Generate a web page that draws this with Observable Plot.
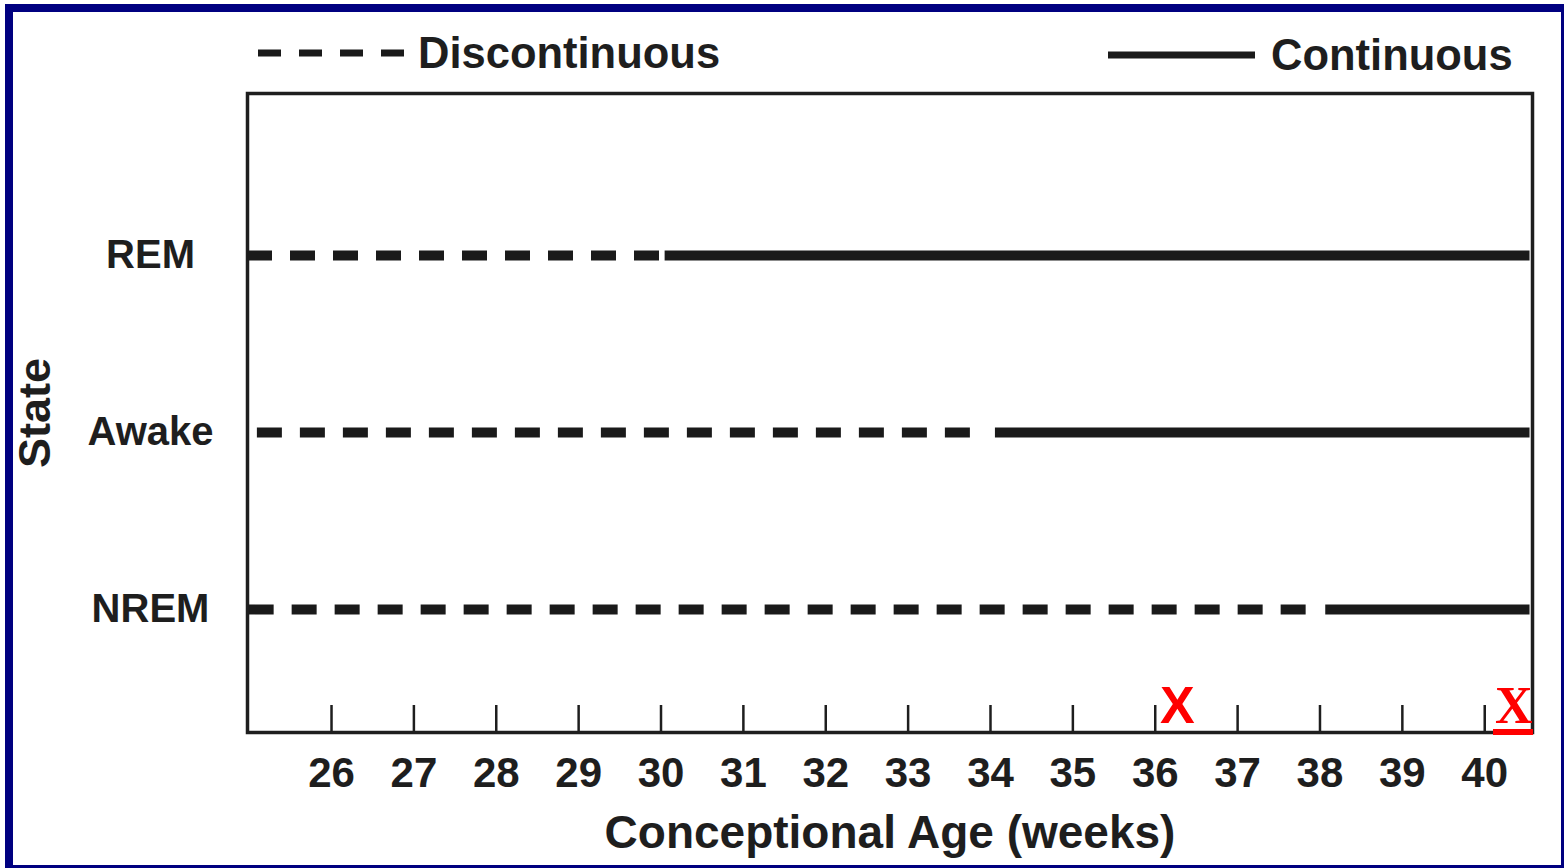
<!DOCTYPE html>
<html>
<head>
<meta charset="utf-8">
<script src="https://cdn.jsdelivr.net/npm/d3@7"></script>
<script src="https://cdn.jsdelivr.net/npm/@observablehq/plot@0.6"></script>
<style>
html, body { margin:0; padding:0; background:#fff; width:1564px; height:868px; overflow:hidden;
  font-family:"Liberation Sans", Arial, Helvetica, sans-serif; }
#border { position:absolute; left:5px; top:4px; right:-5px; bottom:-5px; border:8px solid #000080; box-sizing:border-box; pointer-events:none; }
#chart { position:absolute; left:0; top:0; }
#chart svg text { font-weight:bold; }
.legend { position:absolute; display:flex; align-items:center; height:44px; font-weight:bold; font-size:43.5px; line-height:44px; color:#1e1e1e; }
.legend svg { display:block; }
.mark { position:absolute; color:#ff0000; font-weight:bold; }
</style>
</head>
<body>
<div id="chart"></div>
<div id="legend"></div>
<div class="mark" style="left:1160px; top:679px; font-family:'Liberation Sans',Arial,sans-serif; font-size:52px; line-height:52px;">X</div>
<div class="mark" style="left:1495px; top:680px; font-family:'Liberation Serif','Times New Roman',serif; font-size:52px; line-height:52px;">X</div>
<div style="position:absolute; left:1493px; top:729px; width:40px; height:6px; background:#ff0000;"></div>
<div id="border"></div>
<script>
// ---- data ----
const states = ["REM", "Awake", "NREM"];
const stateLevels = [3, 2, 1];
const dashStart = [24.98, 25.1, 25.0];
const dashEnd = [30.0, 33.82, 37.89];
const solidStart = [30.05, 34.06, 38.07];
const lineEnd = [40.55, 40.55, 40.55];
const weeks = [26, 27, 28, 29, 30, 31, 32, 33, 34, 35, 36, 37, 38, 39, 40];
const legendLabels = ["Discontinuous", "Continuous"];
const xLabel = "Conceptional Age (weeks)";
const yLabel = "State";

const dashed = states.map((s, i) => ({state: s, level: stateLevels[i], x1: dashStart[i], x2: dashEnd[i]}));
const solid = states.map((s, i) => ({state: s, level: stateLevels[i], x1: solidStart[i], x2: lineEnd[i]}));

const ink = "#1e1e1e";
const font = "Liberation Sans, Arial, Helvetica, sans-serif";

const chart = Plot.plot({
  width: 1564,
  height: 868,
  marginLeft: 247,
  marginRight: 32,
  marginTop: 93,
  marginBottom: 136,
  style: {background: "transparent", color: ink, fontFamily: font, overflow: "visible"},
  x: {domain: [24.98, 40.58]},
  y: {domain: [0.305, 3.915], axis: null},
  marks: [
    Plot.frame({stroke: ink, strokeWidth: 3.5}),
    Plot.tickX(weeks, {x: d => d, insetTop: 612, stroke: ink, strokeWidth: 2.5}),
    Plot.axisX(weeks, {tickSize: 0, tickPadding: 25, fontSize: 42, fontWeight: "bold", label: null, tickFormat: d => String(d)}),
    Plot.ruleY(dashed, {y: "level", x1: "x1", x2: "x2", stroke: "#1a1a1a", strokeWidth: 10, strokeDasharray: "25,18"}),
    Plot.ruleY(solid, {y: "level", x1: "x1", x2: "x2", stroke: "#1a1a1a", strokeWidth: 10}),
    Plot.text(states, {y: (d, i) => stateLevels[i], text: d => d, frameAnchor: "left", dx: -97, textAnchor: "middle", lineAnchor: "middle", fontSize: 40, fontWeight: "bold", fill: ink}),
    Plot.text([xLabel], {text: d => d, frameAnchor: "bottom", dy: 101, textAnchor: "middle", lineAnchor: "middle", fontSize: 46, fontWeight: "bold", fill: ink}),
    Plot.text([yLabel], {text: d => d, frameAnchor: "left", dx: -212, rotate: -90, textAnchor: "middle", lineAnchor: "middle", fontSize: 45, fontWeight: "bold", fill: ink})
  ]
});
document.getElementById("chart").appendChild(chart);

// ---- legend ----
const legend = document.getElementById("legend");
const items = [
  {label: legendLabels[0], left: 258, top: 31, dash: "23,18", gap: 13},
  {label: legendLabels[1], left: 1108, top: 33, dash: null, gap: 16}
];
for (const it of items) {
  const div = document.createElement("div");
  div.className = "legend";
  div.style.left = it.left + "px";
  div.style.top = it.top + "px";
  const svg = d3.create("svg").attr("width", 147).attr("height", 44);
  svg.append("line").attr("x1", 0).attr("x2", 147).attr("y1", 22).attr("y2", 22)
    .attr("stroke", "#1a1a1a").attr("stroke-width", 7)
    .attr("stroke-dasharray", it.dash);
  div.appendChild(svg.node());
  const span = document.createElement("span");
  span.style.marginLeft = it.gap + "px";
  span.textContent = it.label;
  div.appendChild(span);
  legend.appendChild(div);
}
</script>
</body>
</html>
